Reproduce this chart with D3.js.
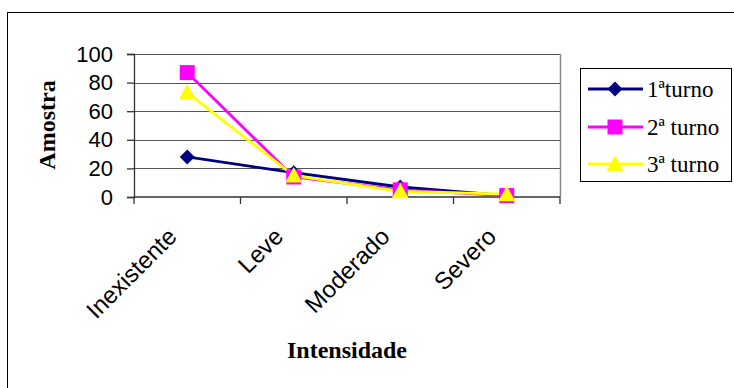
<!DOCTYPE html>
<html>
<head>
<meta charset="utf-8">
<script src="https://cdn.jsdelivr.net/npm/d3@7"></script>
<style>
  html, body { margin: 0; padding: 0; background: #fff; }
  svg { display: block; }
</style>
</head>
<body>
<svg id="chart" width="734" height="388"></svg>
<script>
// Intensity categories and the three shifts
const categories = ["Inexistente", "Leve", "Moderado", "Severo"];
const turno1 = [28, 17, 7, 1];
const turno2 = [87, 14, 5, 1];
const turno3 = [73, 15, 4, 2];
const seriesNames = ["1ªturno", "2ª turno", "3ª turno"];
const yTicks = [0, 20, 40, 60, 80, 100];

const series = [
  { name: seriesNames[0], values: turno1, color: "#000080", shape: "diamond" },
  { name: seriesNames[1], values: turno2, color: "#ff00ff", shape: "square" },
  { name: seriesNames[2], values: turno3, color: "#ffff00", shape: "triangle" }
];

const svg = d3.select("#chart");

// outer chart frame
svg.append("rect")
  .attr("x", 7.5).attr("y", 12.5)
  .attr("width", 800).attr("height", 500)
  .attr("fill", "#fff").attr("stroke", "#000").attr("stroke-width", 1);

const plot = { left: 134, right: 560, top: 54, bottom: 197 };

const x = d3.scaleBand().domain(categories).range([plot.left, plot.right]);
const y = d3.scaleLinear().domain([0, 100]).range([plot.bottom, plot.top]);

// gridlines
svg.append("g")
  .selectAll("line")
  .data(yTicks.filter(d => d > 0))
  .join("line")
  .attr("x1", plot.left).attr("x2", plot.right)
  .attr("y1", d => Math.round(y(d)) + 0.5).attr("y2", d => Math.round(y(d)) + 0.5)
  .attr("stroke", "#555").attr("stroke-width", 1.2);

// right border of plot area
svg.append("line")
  .attr("x1", plot.right + 0.5).attr("x2", plot.right + 0.5)
  .attr("y1", plot.top).attr("y2", plot.bottom)
  .attr("stroke", "#888").attr("stroke-width", 1.5);

// y axis
const yAxis = svg.append("g")
  .attr("transform", `translate(${plot.left},0)`)
  .call(d3.axisLeft(y).tickValues(yTicks).tickSize(7).tickPadding(14));
yAxis.select(".domain").attr("stroke", "#333").attr("stroke-width", 1.3);
yAxis.selectAll(".tick line").attr("stroke", "#333").attr("stroke-width", 1.3);
yAxis.selectAll("text")
  .attr("font-family", "Arial, 'Liberation Sans', sans-serif")
  .attr("font-size", 22).attr("fill", "#000");

// x axis with ticks on band boundaries
const xAxisG = svg.append("g").attr("transform", `translate(0,${plot.bottom})`);
xAxisG.append("line")
  .attr("x1", plot.left).attr("x2", plot.right)
  .attr("stroke", "#333").attr("stroke-width", 1.3);
const boundaries = categories.map(c => x(c)).concat([x.range()[1]]);
xAxisG.selectAll("line.tk")
  .data(boundaries)
  .join("line").attr("class", "tk")
  .attr("x1", d => d).attr("x2", d => d)
  .attr("y1", 0).attr("y2", 7)
  .attr("stroke", "#333").attr("stroke-width", 1.3);
xAxisG.selectAll("text")
  .data(categories)
  .join("text")
  .attr("transform", d => `translate(${x(d) + x.bandwidth() / 2 - 9},${41}) rotate(-45)`)
  .attr("text-anchor", "end")
  .attr("font-family", "Arial, 'Liberation Sans', sans-serif")
  .attr("font-size", 24)
  .text(d => d);

// axis titles
svg.append("text")
  .attr("transform", `translate(55,125) rotate(-90)`)
  .attr("text-anchor", "middle")
  .attr("font-family", "'Times New Roman', 'Liberation Serif', serif")
  .attr("font-weight", "bold").attr("font-size", 24)
  .text("Amostra");
svg.append("text")
  .attr("x", 347).attr("y", 358)
  .attr("text-anchor", "middle")
  .attr("font-family", "'Times New Roman', 'Liberation Serif', serif")
  .attr("font-weight", "bold").attr("font-size", 24)
  .text("Intensidade");

// marker drawing
function marker(g, shape, color) {
  if (shape === "diamond") {
    g.append("path").attr("d", "M0,-7.5L7.5,0L0,7.5L-7.5,0Z").attr("fill", color);
  } else if (shape === "square") {
    g.append("rect").attr("x", -7.5).attr("y", -7.5).attr("width", 15).attr("height", 15).attr("fill", color);
  } else {
    g.append("path").attr("d", "M0,-8.5L8.5,7L-8.5,7Z").attr("fill", color);
  }
}

const line = d3.line()
  .x((d, i) => x(categories[i]) + x.bandwidth() / 2)
  .y(d => y(d));

series.forEach(s => {
  svg.append("path")
    .attr("d", line(s.values))
    .attr("fill", "none").attr("stroke", s.color).attr("stroke-width", 2.8);
});
series.forEach(s => {
  s.values.forEach((v, i) => {
    const g = svg.append("g")
      .attr("transform", `translate(${x(categories[i]) + x.bandwidth() / 2},${y(v)})`);
    marker(g, s.shape, s.color);
  });
});

// legend
const legend = svg.append("g");
legend.append("rect")
  .attr("x", 580.5).attr("y", 68.5).attr("width", 151).attr("height", 113)
  .attr("fill", "#fff").attr("stroke", "#000").attr("stroke-width", 1);
const rowY = [89, 127, 164];
series.forEach((s, i) => {
  const row = legend.append("g");
  row.append("line")
    .attr("x1", 588).attr("x2", 643)
    .attr("y1", rowY[i]).attr("y2", rowY[i])
    .attr("stroke", s.color).attr("stroke-width", 2.8);
  const m = row.append("g").attr("transform", `translate(615,${rowY[i]})`);
  marker(m, s.shape, s.color);
  row.append("text")
    .attr("x", 647).attr("y", rowY[i] + 8)
    .attr("font-family", "'Times New Roman', 'Liberation Serif', serif")
    .attr("font-size", 23)
    .text(s.name);
});
</script>
</body>
</html>
